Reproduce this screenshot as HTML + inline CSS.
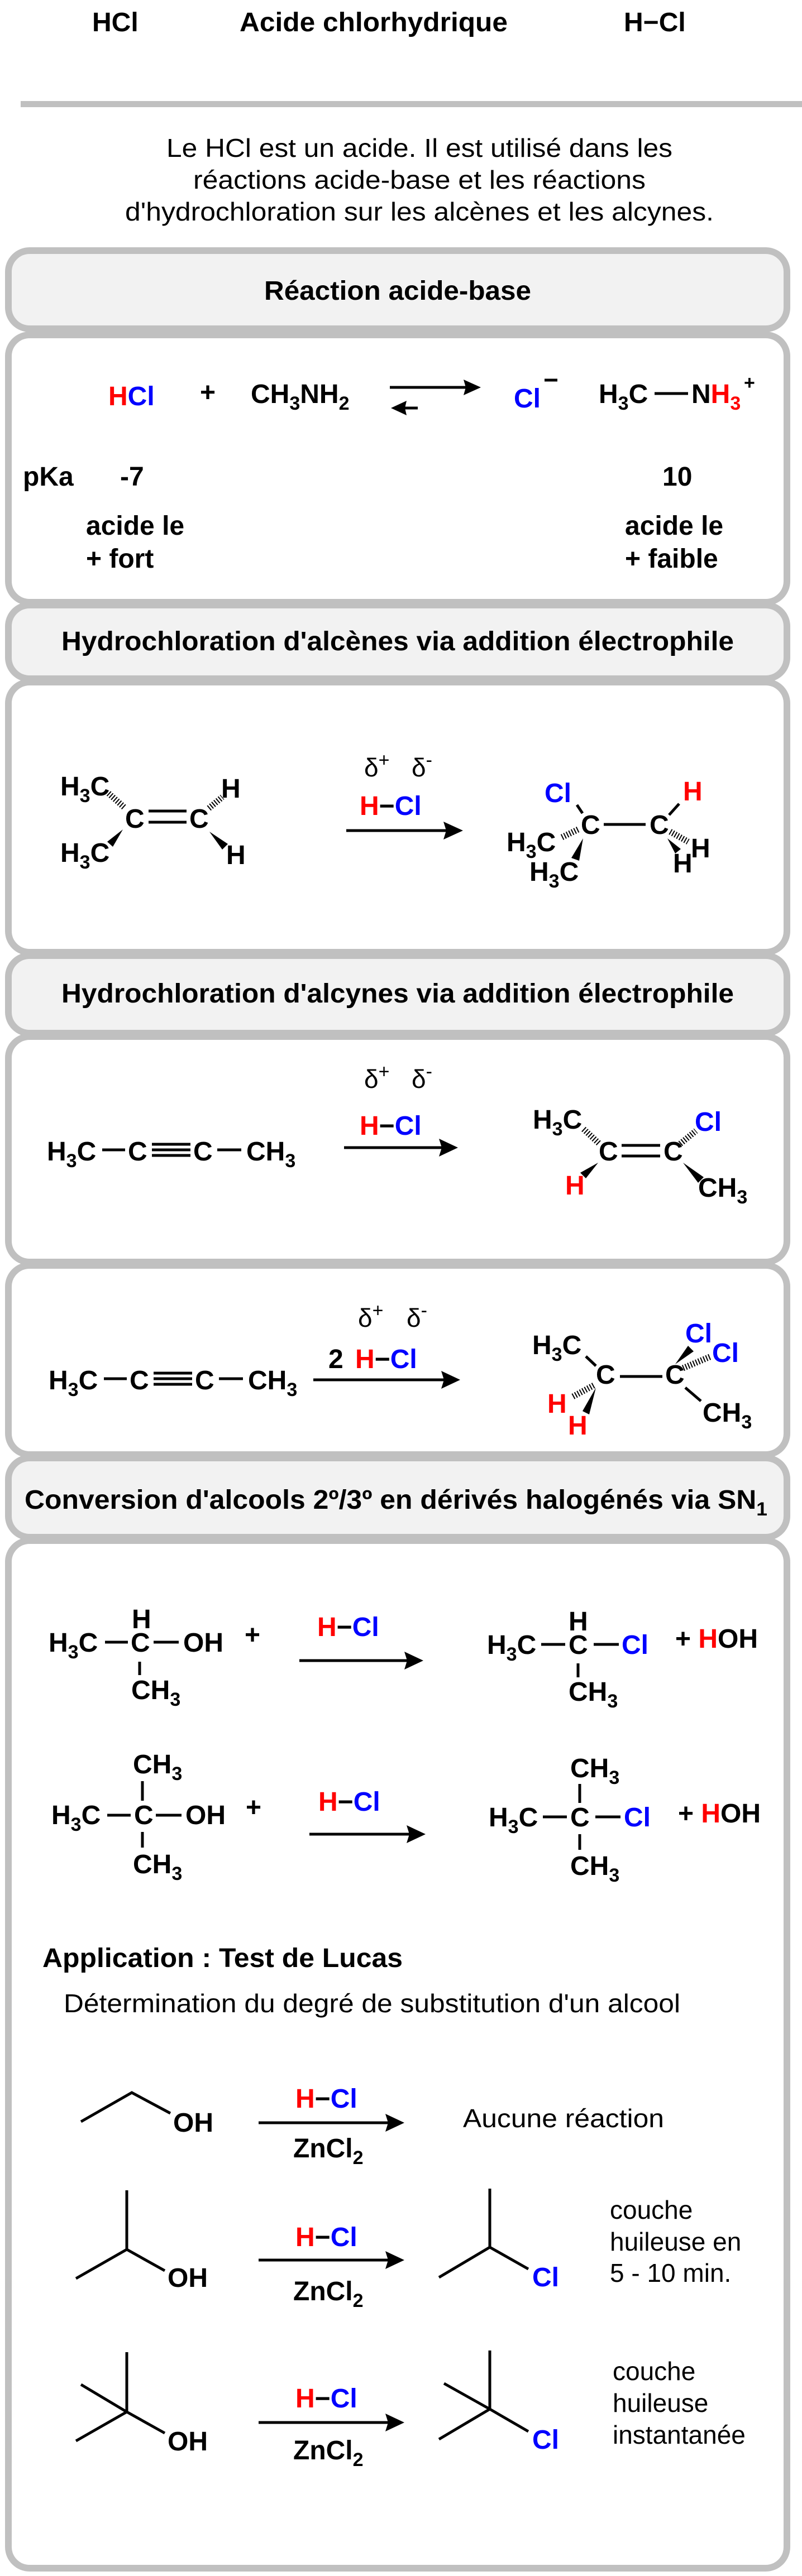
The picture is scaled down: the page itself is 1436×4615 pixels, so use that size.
<!DOCTYPE html>
<html><head><meta charset="utf-8"><style>
html,body{margin:0;padding:0;background:#fff}
svg{display:block}
.b{font-family:"Liberation Sans",Arial,sans-serif;font-weight:bold;font-size:48px;fill:#000}
.r{font-family:"Liberation Sans",Arial,sans-serif;font-size:46px;fill:#000}
.t{font-family:"Liberation Sans",Arial,sans-serif;font-weight:bold;font-size:48px;fill:#000}
.red{fill:#ff0000}.blue{fill:#0000ff}
.box{fill:#fff;stroke:#c0c0c0;stroke-width:12}
.hd{fill:#f2f2f2;stroke:#c0c0c0;stroke-width:12}
.ln{stroke:#000;stroke-width:5;fill:none}
.hs{stroke:#000;stroke-width:11;stroke-dasharray:2 3;fill:none}
</style></head><body>
<svg width="1436" height="4615" viewBox="0 0 1436 4615" xmlns="http://www.w3.org/2000/svg">
<!-- top -->
<text class="t" x="165" y="56">HCl</text>
<text class="t" x="429" y="56" textLength="480" lengthAdjust="spacingAndGlyphs">Acide chlorhydrique</text>
<text class="t" x="1117" y="56">H−Cl</text>
<rect x="37" y="181" width="1399" height="11" fill="#c0c0c0"/>
<text class="r" x="298" y="281" textLength="906" lengthAdjust="spacingAndGlyphs">Le HCl est un acide. Il est utilisé dans les</text>
<text class="r" x="346" y="338" textLength="810" lengthAdjust="spacingAndGlyphs">réactions acide-base et les réactions</text>
<text class="r" x="224" y="395" textLength="1054" lengthAdjust="spacingAndGlyphs">d'hydrochloration sur les alcènes et les alcynes.</text>

<!-- boxes -->
<rect class="box" x="15" y="600" width="1394" height="479" rx="38"/>
<rect class="hd" x="15" y="449" width="1394" height="140" rx="38"/>
<rect class="box" x="15" y="1222" width="1394" height="484" rx="38"/>
<rect class="hd" x="15" y="1084" width="1394" height="132" rx="38"/>
<rect class="box" x="15" y="1857" width="1394" height="404" rx="38"/>
<rect class="box" x="15" y="2267" width="1394" height="339" rx="38"/>
<rect class="hd" x="15" y="1712" width="1394" height="139" rx="38"/>
<rect class="box" x="15" y="2760" width="1394" height="1841" rx="38"/>
<rect class="hd" x="15" y="2612" width="1394" height="142" rx="38"/>

<text class="t" x="712" y="537" text-anchor="middle" textLength="478" lengthAdjust="spacingAndGlyphs">Réaction acide-base</text>
<text class="t" x="712" y="1165" text-anchor="middle" textLength="1204" lengthAdjust="spacingAndGlyphs">Hydrochloration d'alcènes via addition électrophile</text>
<text class="t" x="712" y="1796" text-anchor="middle" textLength="1204" lengthAdjust="spacingAndGlyphs">Hydrochloration d'alcynes via addition électrophile</text>
<text class="t" x="44" y="2703" textLength="1330" lengthAdjust="spacingAndGlyphs">Conversion d'alcools 2º/3º en dérivés halogénés via SN<tspan font-size="34" dy="12">1</tspan></text>

<!-- Box A content -->
<text class="b" x="194" y="726"><tspan class="red">H</tspan><tspan class="blue">Cl</tspan></text>
<text class="b" x="358" y="719">+</text>
<text class="b" x="449" y="722">CH<tspan font-size="34" dy="12">3</tspan><tspan dy="-12">NH</tspan><tspan font-size="34" dy="12">2</tspan></text>
<line class="ln" x1="698" y1="694" x2="835" y2="694"/>
<polygon points="861,694 830,680 834,694 830,708"/>
<line class="ln" x1="720" y1="731" x2="748" y2="731"/>
<polygon points="700,731 728,718 725,731 728,744"/>
<text class="b blue" x="920" y="730">Cl</text>
<line stroke="#000" stroke-width="5" x1="975" y1="681" x2="998" y2="681"/>
<text class="b" x="1072" y="722">H<tspan font-size="34" dy="12">3</tspan><tspan dy="-12">C</tspan></text>
<line class="ln" x1="1172" y1="705" x2="1232" y2="705"/>
<text class="b" x="1238" y="722">N<tspan class="red">H</tspan><tspan class="red" font-size="34" dy="12">3</tspan></text>
<text class="b" x="1332" y="697" font-size="34" style="font-size:34px">+</text>
<text class="b" x="41" y="870">pKa</text>
<text class="b" x="215" y="870">-7</text>
<text class="b" x="1186" y="870">10</text>
<text class="b" x="154" y="958">acide le</text>
<text class="b" x="154" y="1017">+ fort</text>
<text class="b" x="1119" y="958">acide le</text>
<text class="b" x="1119" y="1017">+ faible</text>

<!-- Box B content -->
<text class="b" x="108" y="1425">H<tspan font-size="34" dy="12">3</tspan><tspan dy="-12">C</tspan></text>
<text class="b" x="108" y="1544">H<tspan font-size="34" dy="12">3</tspan><tspan dy="-12">C</tspan></text>
<text class="b" x="224" y="1483">C</text>
<line class="ln" x1="266" y1="1453" x2="334" y2="1453"/>
<line class="ln" x1="266" y1="1473" x2="334" y2="1473"/>
<text class="b" x="339" y="1483">C</text>
<text class="b" x="396" y="1429">H</text>
<text class="b" x="405" y="1548">H</text>
<line class="hs" x1="222" y1="1446" x2="194" y2="1421"/>
<polygon points="220,1486 202,1517 192,1508"/>
<line class="hs" x1="374" y1="1448" x2="398" y2="1428"/>
<polygon points="375,1490 398,1522 408,1512"/>

<text class="r" x="652" y="1391">δ<tspan font-size="34" dy="-18">+</tspan></text>
<text class="r" x="737" y="1391">δ<tspan font-size="34" dy="-18">-</tspan></text>
<text class="b" x="644" y="1460"><tspan class="red">H</tspan>−<tspan class="blue">Cl</tspan></text>
<line class="ln" x1="620" y1="1488" x2="800" y2="1488"/>
<polygon points="829,1488 794,1472 799,1488 794,1504"/>

<text class="b blue" x="975" y="1437">Cl</text>
<line class="ln" x1="1033" y1="1442" x2="1043" y2="1457"/>
<text class="b" x="1040" y="1494">C</text>
<line class="ln" x1="1081" y1="1477" x2="1156" y2="1477"/>
<text class="b" x="1163" y="1494">C</text>
<line class="ln" x1="1198" y1="1460" x2="1216" y2="1440"/>
<text class="b red" x="1223" y="1434">H</text>
<text class="b" x="907" y="1525">H<tspan font-size="34" dy="12">3</tspan><tspan dy="-12">C</tspan></text>
<line class="hs" x1="1035" y1="1486" x2="1004" y2="1501"/>
<polygon points="1044,1502 1037,1542 1023,1537"/>
<text class="b" x="948" y="1578">H<tspan font-size="34" dy="12">3</tspan><tspan dy="-12">C</tspan></text>
<line class="hs" x1="1200" y1="1490" x2="1232" y2="1508"/>
<polygon points="1195,1502 1209,1529 1219,1521"/>
<text class="b" x="1237" y="1536">H</text>
<text class="b" x="1205" y="1563">H</text>

<!-- Box C content 1 -->
<text class="b" x="84" y="2079">H<tspan font-size="34" dy="12">3</tspan><tspan dy="-12">C</tspan></text>
<line class="ln" x1="183" y1="2060" x2="224" y2="2060"/>
<text class="b" x="229" y="2079">C</text>
<line class="ln" x1="272" y1="2050" x2="341" y2="2050"/>
<line class="ln" x1="272" y1="2060" x2="341" y2="2060"/>
<line class="ln" x1="272" y1="2070" x2="341" y2="2070"/>
<text class="b" x="346" y="2079">C</text>
<line class="ln" x1="389" y1="2060" x2="432" y2="2060"/>
<text class="b" x="441" y="2079">CH<tspan font-size="34" dy="12">3</tspan></text>

<text class="r" x="652" y="1949">δ<tspan font-size="34" dy="-18">+</tspan></text>
<text class="r" x="737" y="1949">δ<tspan font-size="34" dy="-18">-</tspan></text>
<text class="b" x="644" y="2033"><tspan class="red">H</tspan>−<tspan class="blue">Cl</tspan></text>
<line class="ln" x1="616" y1="2056" x2="792" y2="2056"/>
<polygon points="820,2056 786,2040 791,2056 786,2072"/>

<text class="b" x="954" y="2022">H<tspan font-size="34" dy="12">3</tspan><tspan dy="-12">C</tspan></text>
<line class="hs" x1="1072" y1="2048" x2="1044" y2="2022"/>
<text class="b" x="1072" y="2079">C</text>
<line class="ln" x1="1113" y1="2052" x2="1182" y2="2052"/>
<line class="ln" x1="1113" y1="2071" x2="1182" y2="2071"/>
<text class="b" x="1188" y="2079">C</text>
<polygon points="1071,2083 1049,2111 1039,2101"/>
<text class="b red" x="1012" y="2140">H</text>
<line class="hs" x1="1218" y1="2049" x2="1246" y2="2026"/>
<text class="b blue" x="1244" y="2026">Cl</text>
<polygon points="1223,2083 1250,2119 1260,2109"/>
<text class="b" x="1250" y="2144">CH<tspan font-size="34" dy="12">3</tspan></text>

<!-- Box C content 2 -->
<text class="b" x="87" y="2489">H<tspan font-size="34" dy="12">3</tspan><tspan dy="-12">C</tspan></text>
<line class="ln" x1="186" y1="2470" x2="227" y2="2470"/>
<text class="b" x="232" y="2489">C</text>
<line class="ln" x1="275" y1="2460" x2="344" y2="2460"/>
<line class="ln" x1="275" y1="2470" x2="344" y2="2470"/>
<line class="ln" x1="275" y1="2480" x2="344" y2="2480"/>
<text class="b" x="349" y="2489">C</text>
<line class="ln" x1="392" y1="2470" x2="435" y2="2470"/>
<text class="b" x="444" y="2489">CH<tspan font-size="34" dy="12">3</tspan></text>

<text class="r" x="641" y="2377">δ<tspan font-size="34" dy="-18">+</tspan></text>
<text class="r" x="728" y="2377">δ<tspan font-size="34" dy="-18">-</tspan></text>
<text class="b" x="588" y="2451">2 <tspan class="red" dx="8">H</tspan>−<tspan class="blue">Cl</tspan></text>
<line class="ln" x1="561" y1="2472" x2="796" y2="2472"/>
<polygon points="824,2472 790,2456 795,2472 790,2488"/>

<text class="b" x="953" y="2426">H<tspan font-size="34" dy="12">3</tspan><tspan dy="-12">C</tspan></text>
<line class="ln" x1="1049" y1="2430" x2="1067" y2="2447"/>
<text class="b" x="1067" y="2479">C</text>
<line class="ln" x1="1110" y1="2466" x2="1186" y2="2466"/>
<text class="b" x="1191" y="2479">C</text>
<polygon points="1209,2444 1242,2421 1232,2411"/>
<text class="b blue" x="1227" y="2405">Cl</text>
<line class="hs" x1="1223" y1="2451" x2="1273" y2="2430"/>
<text class="b blue" x="1275" y="2440">Cl</text>
<line class="ln" x1="1227" y1="2486" x2="1255" y2="2510"/>
<text class="b" x="1258" y="2547">CH<tspan font-size="34" dy="12">3</tspan></text>
<line class="hs" x1="1063" y1="2482" x2="1024" y2="2503"/>
<text class="b red" x="980" y="2531">H</text>
<polygon points="1067,2486 1055,2534 1043,2528"/>
<text class="b red" x="1017" y="2570">H</text>

<!-- Box D row 1 -->
<text class="b" x="87" y="2959">H<tspan font-size="34" dy="12">3</tspan><tspan dy="-12">C</tspan></text>
<line class="ln" x1="188" y1="2942" x2="229" y2="2942"/>
<text class="b" x="236" y="2917">H</text>
<text class="b" x="234" y="2959">C</text>
<line class="ln" x1="275" y1="2942" x2="320" y2="2942"/>
<text class="b" x="328" y="2959">OH</text>
<line class="ln" x1="250" y1="2977" x2="250" y2="3001"/>
<text class="b" x="235" y="3044">CH<tspan font-size="34" dy="12">3</tspan></text>
<text class="b" x="438" y="2945">+</text>
<text class="b" x="568" y="2931"><tspan class="red">H</tspan>−<tspan class="blue">Cl</tspan></text>
<line class="ln" x1="536" y1="2975" x2="730" y2="2975"/>
<polygon points="758,2975 724,2959 729,2975 724,2991"/>
<text class="b" x="872" y="2963">H<tspan font-size="34" dy="12">3</tspan><tspan dy="-12">C</tspan></text>
<line class="ln" x1="969" y1="2946" x2="1012" y2="2946"/>
<text class="b" x="1018" y="2921">H</text>
<text class="b" x="1018" y="2963">C</text>
<line class="ln" x1="1063" y1="2946" x2="1108" y2="2946"/>
<text class="b blue" x="1113" y="2963">Cl</text>
<line class="ln" x1="1035" y1="2980" x2="1035" y2="3005"/>
<text class="b" x="1018" y="3047">CH<tspan font-size="34" dy="12">3</tspan></text>
<text class="b" x="1209" y="2952">+ <tspan class="red">H</tspan>OH</text>

<!-- Box D row 2 -->
<text class="b" x="238" y="3177">CH<tspan font-size="34" dy="12">3</tspan></text>
<line class="ln" x1="255" y1="3191" x2="255" y2="3226"/>
<text class="b" x="92" y="3268">H<tspan font-size="34" dy="12">3</tspan><tspan dy="-12">C</tspan></text>
<line class="ln" x1="192" y1="3252" x2="234" y2="3252"/>
<text class="b" x="240" y="3268">C</text>
<line class="ln" x1="279" y1="3252" x2="325" y2="3252"/>
<text class="b" x="332" y="3268">OH</text>
<line class="ln" x1="255" y1="3282" x2="255" y2="3310"/>
<text class="b" x="238" y="3356">CH<tspan font-size="34" dy="12">3</tspan></text>
<text class="b" x="440" y="3254">+</text>
<text class="b" x="570" y="3244"><tspan class="red">H</tspan>−<tspan class="blue">Cl</tspan></text>
<line class="ln" x1="554" y1="3286" x2="734" y2="3286"/>
<polygon points="762,3286 728,3270 733,3286 728,3302"/>
<text class="b" x="1021" y="3184">CH<tspan font-size="34" dy="12">3</tspan></text>
<line class="ln" x1="1038" y1="3196" x2="1038" y2="3230"/>
<text class="b" x="875" y="3272">H<tspan font-size="34" dy="12">3</tspan><tspan dy="-12">C</tspan></text>
<line class="ln" x1="972" y1="3255" x2="1015" y2="3255"/>
<text class="b" x="1021" y="3272">C</text>
<line class="ln" x1="1066" y1="3255" x2="1111" y2="3255"/>
<text class="b blue" x="1117" y="3272">Cl</text>
<line class="ln" x1="1038" y1="3286" x2="1038" y2="3314"/>
<text class="b" x="1021" y="3359">CH<tspan font-size="34" dy="12">3</tspan></text>
<text class="b" x="1214" y="3265">+ <tspan class="red">H</tspan>OH</text>

<!-- Lucas -->
<text class="t" x="76" y="3524" textLength="645" lengthAdjust="spacingAndGlyphs">Application : Test de Lucas</text>
<text class="r" x="114" y="3605" textLength="1104" lengthAdjust="spacingAndGlyphs">Détermination du degré de substitution d'un alcool</text>

<polyline class="ln" points="145,3801 236,3749 305,3786"/>
<text class="b" x="310" y="3819">OH</text>
<text class="b" x="529" y="3776"><tspan class="red">H</tspan>−<tspan class="blue">Cl</tspan></text>
<line class="ln" x1="463" y1="3803" x2="696" y2="3803"/>
<polygon points="724,3803 690,3787 695,3803 690,3819"/>
<text class="b" x="525" y="3865">ZnCl<tspan font-size="34" dy="12">2</tspan></text>
<text class="r" x="829" y="3811" textLength="360" lengthAdjust="spacingAndGlyphs">Aucune réaction</text>

<line class="ln" x1="227" y1="3924" x2="227" y2="4030"/>
<polyline class="ln" points="136,4082 227,4030 295,4068"/>
<text class="b" x="300" y="4097">OH</text>
<text class="b" x="529" y="4024"><tspan class="red">H</tspan>−<tspan class="blue">Cl</tspan></text>
<line class="ln" x1="463" y1="4049" x2="696" y2="4049"/>
<polygon points="724,4049 690,4033 695,4049 690,4065"/>
<text class="b" x="525" y="4121">ZnCl<tspan font-size="34" dy="12">2</tspan></text>
<line class="ln" x1="877" y1="3921" x2="877" y2="4026"/>
<polyline class="ln" points="786,4080 877,4026 946,4065"/>
<text class="b blue" x="953" y="4096">Cl</text>
<text class="r" x="1092" y="3975">couche</text>
<text class="r" x="1092" y="4032">huileuse en</text>
<text class="r" x="1092" y="4088">5 - 10 min.</text>

<line class="ln" x1="227" y1="4214" x2="227" y2="4321"/>
<line class="ln" x1="145" y1="4272" x2="227" y2="4321"/>
<polyline class="ln" points="136,4373 227,4321 295,4359"/>
<text class="b" x="300" y="4390">OH</text>
<text class="b" x="529" y="4313"><tspan class="red">H</tspan>−<tspan class="blue">Cl</tspan></text>
<line class="ln" x1="463" y1="4340" x2="696" y2="4340"/>
<polygon points="724,4340 690,4324 695,4340 690,4356"/>
<text class="b" x="525" y="4406">ZnCl<tspan font-size="34" dy="12">2</tspan></text>
<line class="ln" x1="877" y1="4211" x2="877" y2="4316"/>
<line class="ln" x1="795" y1="4270" x2="877" y2="4316"/>
<polyline class="ln" points="786,4370 877,4316 946,4356"/>
<text class="b blue" x="953" y="4387">Cl</text>
<text class="r" x="1097" y="4264">couche</text>
<text class="r" x="1097" y="4321">huileuse</text>
<text class="r" x="1097" y="4378">instantanée</text>
</svg>
</body></html>
